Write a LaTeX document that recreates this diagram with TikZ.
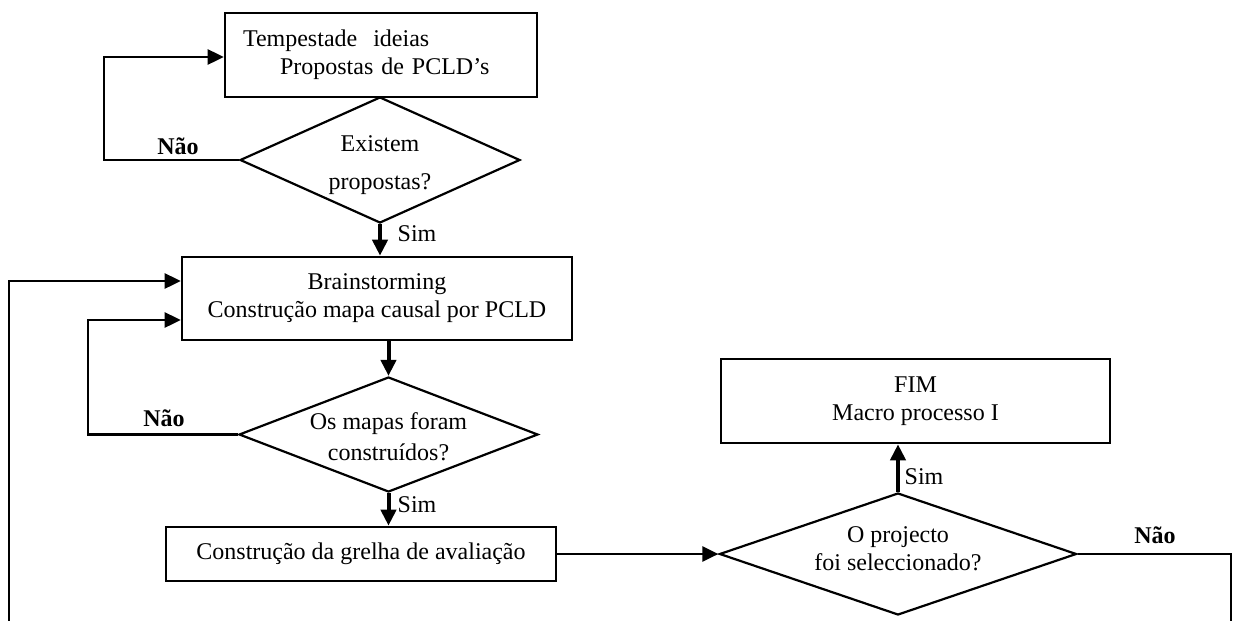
\documentclass[tikz,border=0pt]{standalone}
\usepackage{fontspec}
\setmainfont{Liberation Serif}
\usetikzlibrary{arrows.meta,shapes.geometric}
\begin{document}
\begin{tikzpicture}[x=0.5pt,y=-0.5pt,
  font=\fontsize{12}{14}\selectfont,
  procbox/.style={draw,line width=1.3pt,rectangle,inner sep=0pt,align=center},
  decision/.style={draw,line width=1.1pt,diamond,inner sep=0pt},
  inside/.style={align=center,inner sep=0pt},
  flow/.style={line width=1.35pt,-{Triangle[length=8pt,width=7.5pt]}},
  shaft/.style={line width=2pt,-{Triangle[length=8pt,width=7.5pt]}},
  plain/.style={line width=1.35pt},
  yes/.style={inner sep=0pt},
  no/.style={inner sep=0pt,font=\fontsize{12}{14}\selectfont\bfseries}]
\useasboundingbox (0,0) rectangle (1238,621);

% process boxes
\node[procbox, minimum width=156pt, minimum height=42pt, text width=138pt, align=left]
  (ideias) at (381,55) {Tempestade\ \ ideias\\\hspace*{18.5pt}Propostas de PCLD’s};
\node[procbox, minimum width=195pt, minimum height=41.5pt]
  (brain) at (377,298.5) {Brainstorming\\Construção mapa causal por PCLD};
\node[procbox, minimum width=195pt, minimum height=27pt]
  (grelha) at (361,554) {Construção da grelha de avaliação};
\node[procbox, minimum width=194.5pt, minimum height=42pt]
  (fim) at (915.5,401) {FIM\\Macro processo I};

% decisions
\node[decision, minimum width=140pt, minimum height=63pt,
  label={[inside,yshift=-2.5pt]center:{Existem\\[5pt]propostas?}}] (existem) at (380,160) {};
\node[decision, minimum width=149.5pt, minimum height=57.5pt,
  label={[inside,yshift=-1pt]center:{Os mapas foram\\[1.5pt]construídos?}}] (mapas) at (388.5,434.5) {};
\node[decision, minimum width=178.5pt, minimum height=61pt,
  label={[inside,yshift=2.5pt]center:{O projecto\\foi seleccionado?}}] (projecto) at (898,554) {};

% free ends at the lower edge
\coordinate (outerStart) at (9,621);
\coordinate (rightEnd) at (1231,621);

% connectors
\draw[flow] (existem.west) -- ++(-135,0) |- (ideias.west |- 0,57);
\draw[shaft] (existem.south) -- (existem.south |- brain.north);
\draw[shaft] (mapas.north |- brain.south) -- (mapas.north);
\draw[flow] (mapas.west) -- ++(-150,0) |- (brain.west |- 0,320);
\draw[flow] (outerStart) |- (brain.west |- 0,281);
\draw[shaft] (mapas.south) -- (mapas.south |- grelha.north);
\draw[flow] (grelha.east) -- (projecto.west);
\draw[shaft] (projecto.north) -- (projecto.north |- fim.south);
\draw[plain] (projecto.east) -| (rightEnd);

% branch labels
\node[yes] (sim1) at (417,234) {Sim};
\node[no] (nao1) at (178,146) {Não};
\node[no] (nao2) at (164,418) {Não};
\node[yes] (sim2) at (417,505) {Sim};
\node[yes] (sim3) at (924,477) {Sim};
\node[no] (nao3) at (1155,535) {Não};
\end{tikzpicture}
\end{document}
